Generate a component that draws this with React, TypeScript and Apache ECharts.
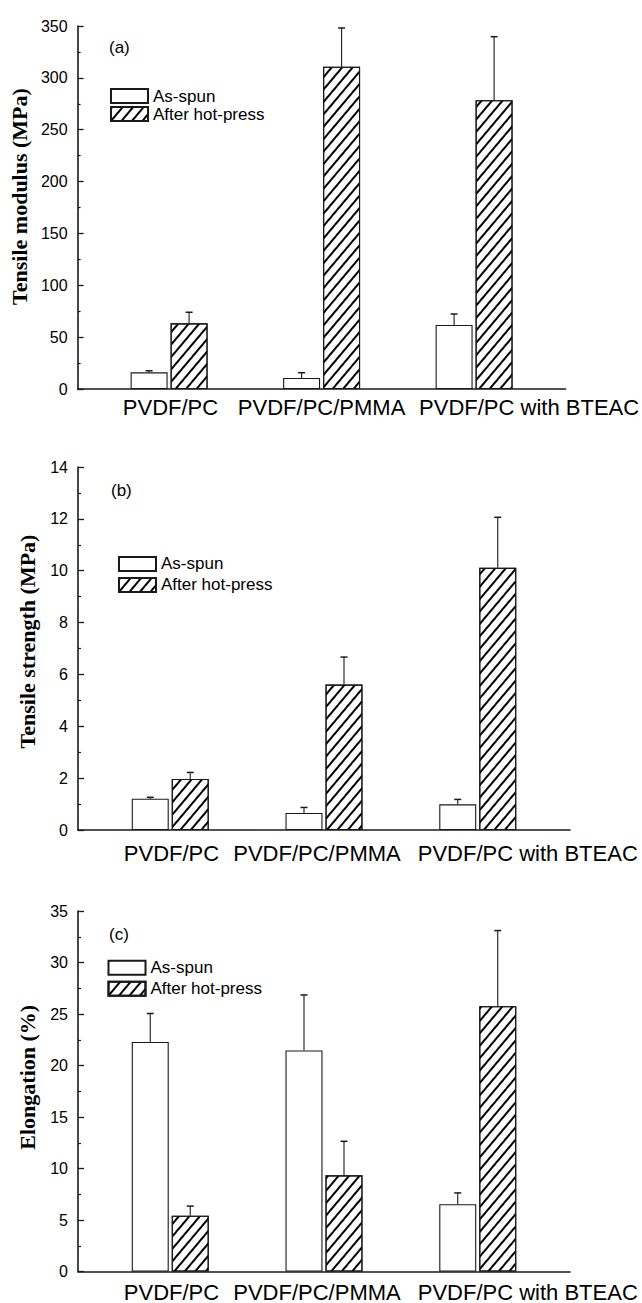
import React, { useEffect, useRef } from "react";
import * as echarts from "echarts";

// ---------- data ----------
const categories = ["PVDF/PC", "PVDF/PC/PMMA", "PVDF/PC with BTEAC"];
const categoryPositions = [1, 2, 3];
const seriesNames = ["As-spun", "After hot-press"];

const modulusAsSpun = [16.1, 10.6, 61.7];
const modulusAsSpunSD = [1.5, 5.1, 10.6];
const modulusHotPress = [63.3, 310.8, 278.4];
const modulusHotPressSD = [10.7, 37.3, 61.3];

const strengthAsSpun = [1.21, 0.66, 0.99];
const strengthAsSpunSD = [0.05, 0.21, 0.19];
const strengthHotPress = [1.97, 5.61, 10.11];
const strengthHotPressSD = [0.25, 1.06, 1.95];

const elongationAsSpun = [22.29, 21.46, 6.54];
const elongationAsSpunSD = [2.76, 5.39, 1.09];
const elongationHotPress = [5.42, 9.34, 25.76];
const elongationHotPressSD = [0.93, 3.3, 7.34];

const panelTags = ["(a)", "(b)", "(c)"];
const yTitles = ["Tensile modulus (MPa)", "Tensile strength (MPa)", "Elongation (%)"];
const yMax = [350, 14, 35];
const yInterval = [50, 2, 5];

// ---------- layout / style ----------
const SANS = "'Liberation Sans', Arial, Helvetica, sans-serif";
const SERIF = "'Liberation Serif', 'Times New Roman', serif";
const BAR_WIDTH = 37;
const BAR_GAP_PX = 3;
const BAR_OFFSET = (BAR_WIDTH + BAR_GAP_PX) / 2;
const INK = "#1a1a1a";

const layouts = [
  { left: 77, top: 26, width: 492, height: 363, legendLeft: 110, legendTop: 87.5, legendGap: 1, tagX: 109, tagY: 47.5, labelMargin: 7, labelShift: [1.4, 0, 55], namePad: 22 },
  { left: 78, top: 467, width: 492, height: 363, legendLeft: 118, legendTop: 555.4, legendGap: 4, tagX: 111, tagY: 490.5, labelMargin: 12, labelShift: [1.2, -7, 50], namePad: 14 },
  { left: 78, top: 911, width: 492, height: 363, legendLeft: 107.5, legendTop: 959.2, legendGap: 4, tagX: 109, tagY: 934.5, labelMargin: 9.5, labelShift: [1.2, -7, 50], namePad: 28 },
];

const hatch = {
  symbol: "rect",
  symbolSize: 1,
  color: "#000",
  dashArrayX: [1, 0],
  dashArrayY: [1.1, 5.3],
  rotation: -0.87,
};

const panelData = [
  { asSpun: modulusAsSpun, asSpunSD: modulusAsSpunSD, hot: modulusHotPress, hotSD: modulusHotPressSD },
  { asSpun: strengthAsSpun, asSpunSD: strengthAsSpunSD, hot: strengthHotPress, hotSD: strengthHotPressSD },
  { asSpun: elongationAsSpun, asSpunSD: elongationAsSpunSD, hot: elongationHotPress, hotSD: elongationHotPressSD },
];

function errorSeries(gi: number, means: number[], sds: number[], side: number) {
  return {
    type: "custom",
    xAxisIndex: gi,
    yAxisIndex: gi,
    z: 5,
    silent: true,
    data: categoryPositions.map((x, i) => [x, means[i], means[i] + sds[i]]),
    renderItem: (params: any, api: any) => {
      const base = api.coord([api.value(0), api.value(1)]);
      const top = api.coord([api.value(0), api.value(2)]);
      const x = base[0] + side * BAR_OFFSET;
      return {
        type: "group",
        children: [
          { type: "line", shape: { x1: x, y1: base[1], x2: x, y2: top[1] }, style: { stroke: INK, lineWidth: 1.1 } },
          { type: "line", shape: { x1: x - 3.5, y1: top[1], x2: x + 3.5, y2: top[1] }, style: { stroke: INK, lineWidth: 1.5 } },
        ],
      };
    },
  };
}

function buildOption() {
  const grid: any[] = [];
  const xAxis: any[] = [];
  const yAxis: any[] = [];
  const legend: any[] = [];
  const series: any[] = [];
  const graphic: any[] = [];

  layouts.forEach((L, gi) => {
    grid.push({ left: L.left, top: L.top, width: L.width, height: L.height, containLabel: false });
    const rich: any = {};
    L.labelShift.forEach((s, i) => {
      rich["p" + i] = {
        fontSize: 22,
        fontFamily: SANS,
        color: "#000",
        padding: s >= 0 ? [0, 0, 0, 2 * s] : [0, -2 * s, 0, 0],
      };
    });
    xAxis.push({
      type: "value",
      gridIndex: gi,
      min: 0.4,
      max: 3.6,
      splitLine: { show: false },
      axisTick: { show: false },
      axisLine: { show: true, onZero: false, lineStyle: { color: INK, width: 1.6 } },
      axisLabel: {
        customValues: categoryPositions,
        margin: L.labelMargin,
        fontSize: 22,
        fontFamily: SANS,
        color: "#000",
        formatter: (v: number) => {
          const idx = categoryPositions.indexOf(Math.round(v));
          return idx < 0 ? "" : `{p${idx}|${categories[idx]}}`;
        },
        rich,
      },
    });
    yAxis.push({
      type: "value",
      gridIndex: gi,
      min: 0,
      max: yMax[gi],
      interval: yInterval[gi],
      name: yTitles[gi],
      nameLocation: "middle",
      nameRotate: 90,
      nameGap: 40,
      nameTextStyle: {
        fontSize: 22,
        fontWeight: "bold",
        fontFamily: SERIF,
        color: "#000",
        padding: [0, 0, 0, L.namePad],
      },
      splitLine: { show: false },
      axisLine: { show: true, onZero: false, lineStyle: { color: INK, width: 1.6 } },
      axisTick: { show: true, inside: true, length: 6, lineStyle: { color: INK, width: 1.3 } },
      minorTick: { show: true, splitNumber: 2, length: 3, lineStyle: { color: INK, width: 1.2 } },
      axisLabel: { fontSize: 16, fontFamily: SANS, color: "#000", margin: 10 },
    });
    legend.push({
      data: seriesNames,
      orient: "vertical",
      left: L.legendLeft,
      top: L.legendTop,
      padding: 0,
      itemGap: L.legendGap,
      itemWidth: 37,
      itemHeight: 14,
      icon: "rect",
      selectedMode: false,
      textStyle: { fontSize: 17, fontFamily: SANS, color: "#000" },
    });
    const D = panelData[gi];
    series.push({
      type: "bar",
      name: seriesNames[0],
      xAxisIndex: gi,
      yAxisIndex: gi,
      barWidth: BAR_WIDTH,
      barGap: ((BAR_GAP_PX / BAR_WIDTH) * 100).toFixed(1) + "%",
      itemStyle: { color: "#fff", borderColor: INK, borderWidth: 1.1 },
      data: categoryPositions.map((x, i) => [x, D.asSpun[i]]),
    });
    series.push({
      type: "bar",
      name: seriesNames[1],
      xAxisIndex: gi,
      yAxisIndex: gi,
      barWidth: BAR_WIDTH,
      barGap: ((BAR_GAP_PX / BAR_WIDTH) * 100).toFixed(1) + "%",
      itemStyle: { color: "#fff", borderColor: INK, borderWidth: 1.1, decal: hatch },
      data: categoryPositions.map((x, i) => [x, D.hot[i]]),
    });
    series.push(errorSeries(gi, D.asSpun, D.asSpunSD, -1));
    series.push(errorSeries(gi, D.hot, D.hotSD, 1));
    graphic.push({
      type: "text",
      x: L.tagX,
      y: L.tagY,
      style: { text: panelTags[gi], fontSize: 17, fontFamily: SANS, fill: "#000", verticalAlign: "middle" },
    });
  });

  return {
    animation: false,
    backgroundColor: "#fff",
    grid,
    xAxis,
    yAxis,
    legend,
    series,
    graphic,
  };
}

export default function App() {
  const ref = useRef<HTMLDivElement>(null);
  useEffect(() => {
    document.body.style.margin = "0";
    if (!ref.current) return;
    const chart = echarts.init(ref.current, undefined, { renderer: "svg" });
    chart.setOption(buildOption() as any);
    return () => chart.dispose();
  }, []);
  return <div ref={ref} style={{ width: 642, height: 1303 }} />;
}
